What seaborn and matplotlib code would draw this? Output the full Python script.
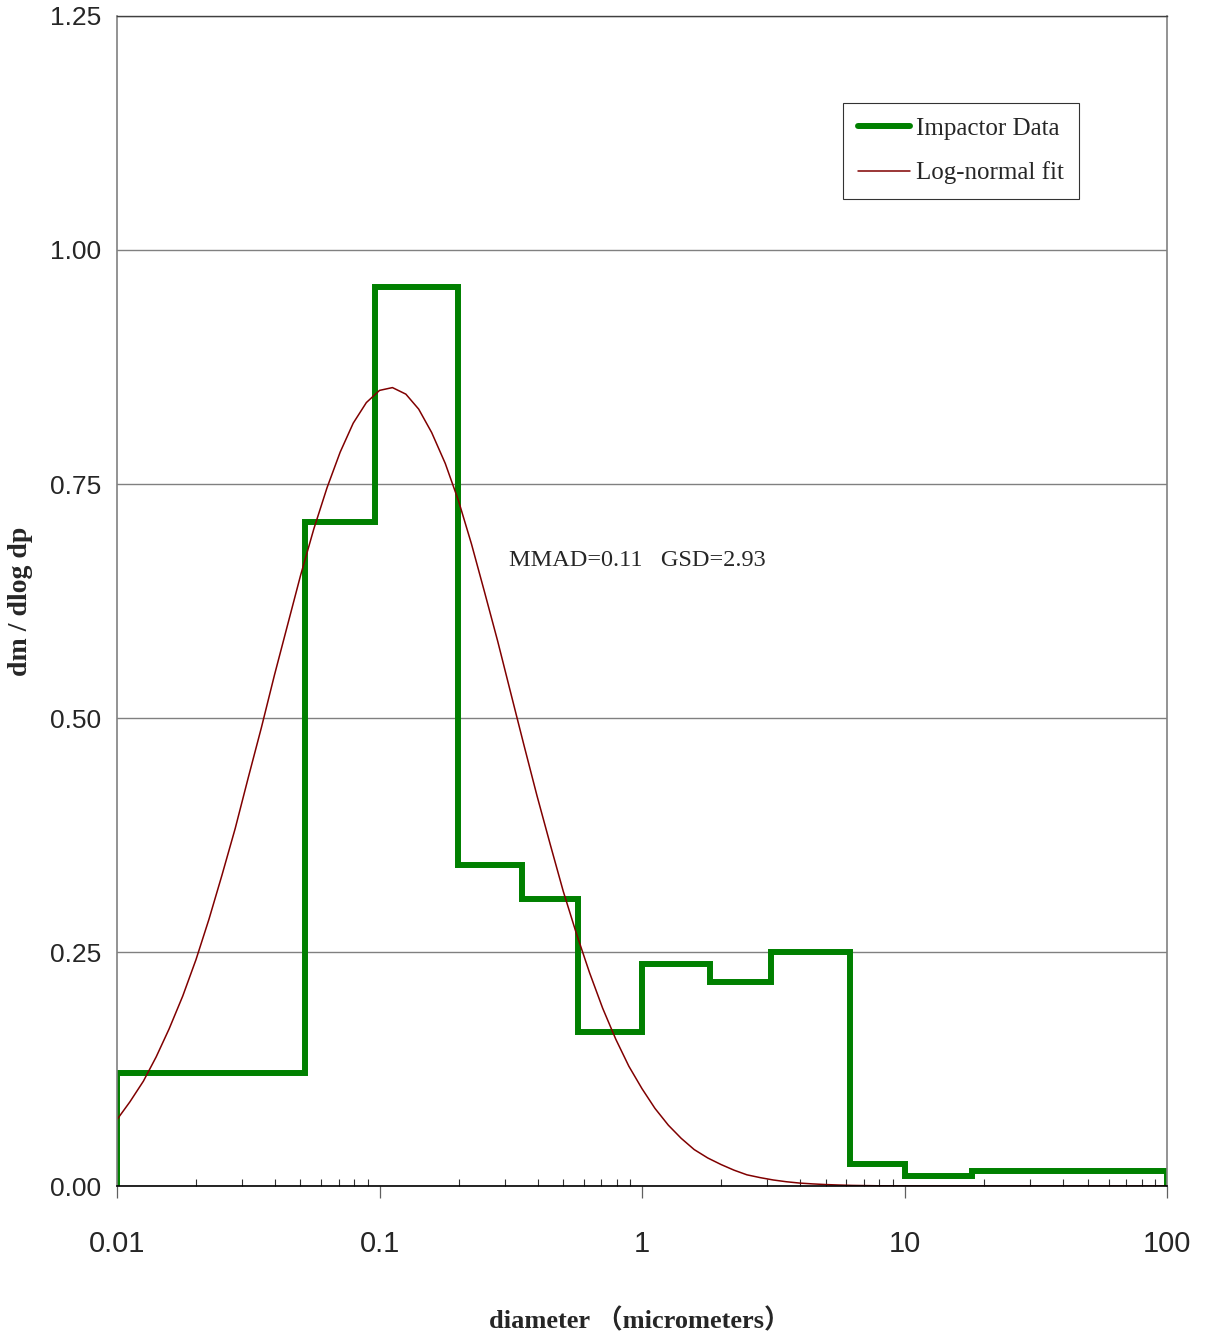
import numpy as np
import pandas as pd
import seaborn as sns
import matplotlib
matplotlib.use("Agg")
import matplotlib.pyplot as plt
from matplotlib.ticker import FixedLocator, FixedFormatter, LogLocator, NullFormatter

# impactor stages: bin edges (micrometers) and dm/dlog dp per bin
bin_edges = [0.01, 0.052, 0.096, 0.199, 0.349, 0.570, 1.0, 1.82, 3.10, 6.2, 10.0, 18.1, 100.0]
bin_values = [0.121, 0.709, 0.960, 0.343, 0.307, 0.165, 0.237, 0.218, 0.250, 0.024, 0.011, 0.016]

# log-normal fit curve
fit_d = [0.01, 0.0112, 0.0126, 0.0141, 0.0158, 0.0178, 0.02, 0.0224, 0.0251, 0.0282,
         0.0316, 0.0355, 0.0398, 0.0447, 0.0501, 0.0562, 0.0631, 0.0708, 0.0794, 0.0891,
         0.1, 0.112, 0.126, 0.141, 0.158, 0.178, 0.2, 0.224, 0.251, 0.282,
         0.316, 0.355, 0.398, 0.447, 0.501, 0.562, 0.631, 0.708, 0.794, 0.891,
         1.0, 1.12, 1.26, 1.41, 1.58, 1.78, 2.0, 2.24, 2.51, 2.82,
         3.16, 3.55, 3.98, 4.47, 5.01, 5.62, 6.31, 7.08, 7.94, 8.91,
         10.0, 20.0, 50.0, 100.0]
fit_y = [0.071, 0.090, 0.112, 0.138, 0.168, 0.203, 0.242, 0.285, 0.332, 0.382,
         0.436, 0.490, 0.546, 0.600, 0.653, 0.702, 0.746, 0.784, 0.815, 0.837,
         0.850, 0.853, 0.846, 0.830, 0.805, 0.772, 0.732, 0.686, 0.635, 0.582,
         0.527, 0.471, 0.417, 0.365, 0.315, 0.270, 0.228, 0.190, 0.157, 0.128,
         0.104, 0.083, 0.065, 0.051, 0.039, 0.030, 0.023, 0.017, 0.012, 0.009,
         0.0065, 0.0046, 0.0032, 0.0023, 0.0016, 0.0011, 0.0007, 0.0005, 0.0003, 0.0002,
         0.0001, 0.0, 0.0, 0.0]

x_ticks = [0.01, 0.1, 1, 10, 100]
x_labels = ["0.01", "0.1", "1", "10", "100"]
y_ticks = [0.0, 0.25, 0.5, 0.75, 1.0, 1.25]

sns.set_style("white")
plt.rcParams['font.family'] = ['Liberation Serif', 'DejaVu Serif']

step_df = pd.DataFrame({"d": [bin_edges[0]] + bin_edges,
                        "v": [0.0] + bin_values + [0.0]})
fit_df = pd.DataFrame({"d": fit_d, "v": fit_y})

fig = plt.figure(figsize=(12.05, 13.42), dpi=100)
ax = fig.add_axes([0.0971, 0.1162, 0.8714, 0.8719])
ax.set_xscale("log")

sns.lineplot(data=step_df, x="d", y="v", ax=ax, estimator=None, sort=False,
             drawstyle="steps-post", color="#008000", linewidth=4.3,
             label="Impactor Data", solid_joinstyle="miter")
sns.lineplot(data=fit_df, x="d", y="v", ax=ax, estimator=None, sort=False,
             color="#800000", linewidth=1.1, label="Log-normal fit")

ax.set_xlim(0.01, 100)
ax.set_ylim(0, 1.25)

# y axis
ax.yaxis.set_major_locator(FixedLocator(y_ticks))
ax.yaxis.set_major_formatter(FixedFormatter(["%.2f" % t for t in y_ticks]))
ax.tick_params(axis="y", which="major", direction="out", length=2.5, width=0.8,
               color="#808080", pad=9, labelsize=19)
for lab in ax.get_yticklabels():
    lab.set_family(['Liberation Sans', 'DejaVu Sans'])
ax.yaxis.grid(True, color="#808080", linewidth=1.0)
ax.set_axisbelow(True)

# x axis
ax.xaxis.set_major_locator(FixedLocator(x_ticks))
ax.xaxis.set_major_formatter(FixedFormatter(x_labels))
ax.xaxis.set_minor_locator(LogLocator(base=10, subs=np.arange(2, 10)))
ax.xaxis.set_minor_formatter(NullFormatter())
ax.tick_params(axis="x", which="major", direction="out", length=8.5, width=0.9,
               color="#606060", pad=23, labelsize=21, bottom=True)
ax.tick_params(axis="x", which="minor", direction="in", length=5, width=0.8,
               color="#303030", bottom=True)
for lab in ax.get_xticklabels():
    lab.set_family(['Liberation Sans', 'DejaVu Sans'])

for side in ["left", "right"]:
    ax.spines[side].set_color("#808080")
    ax.spines[side].set_linewidth(1.2)
ax.spines["top"].set_color("#404040")
ax.spines["top"].set_linewidth(1.0)
ax.spines["bottom"].set_color("black")
ax.spines["bottom"].set_linewidth(1.2)

ax.set_xlabel("diameter （micrometers）", fontsize=19, fontweight="bold",
              family=['Liberation Serif', 'Noto Sans CJK JP'])
ax.xaxis.set_label_coords(0.498, -0.104)
ax.set_ylabel("dm / dlog dp", fontsize=20, fontweight="bold")
ax.yaxis.set_label_coords(-0.080, 0.5)

ax.text(0.31, 0.668, "MMAD=0.11   GSD=2.93", fontsize=17.5, ha="left", va="center")

leg = ax.legend(loc="upper left", bbox_to_anchor=(0.691, 0.926), fontsize=18,
                frameon=True, fancybox=False, edgecolor="black", borderaxespad=0,
                handlelength=2.1, handletextpad=0.25, labelspacing=0.85,
                borderpad=0.6)
leg.get_frame().set_linewidth(0.8)

fig.savefig("out.png", dpi=100, facecolor="white")
